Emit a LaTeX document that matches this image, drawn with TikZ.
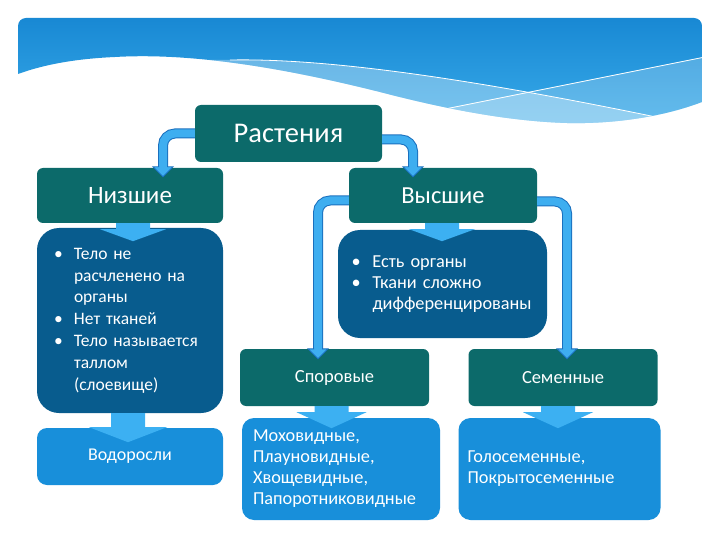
\documentclass[tikz,border=0pt]{standalone}
\usepackage{fontspec}
\setmainfont{Carlito}
\definecolor{tealc}{RGB}{12,106,106}
\definecolor{listc}{RGB}{8,92,142}
\definecolor{botc}{RGB}{24,143,218}
\definecolor{cfillc}{RGB}{62,174,240}
\definecolor{cedgec}{RGB}{26,112,190}
\definecolor{blkc}{RGB}{60,176,242}
\definecolor{bTop}{RGB}{22,134,210}
\definecolor{bBot}{RGB}{58,172,234}
\newcommand\bul[1]{\makebox[#1][l]{\textbullet}}
\newcommand\ind[1]{\hspace*{#1}}
\newcommand\chead[1]{\begin{scope}[shift={(#1)}]
  \fill[cfillc] (-10,-10) -- (10,-10) -- (0,0) -- cycle;
  \draw[cedgec, line width=0.9pt, line join=miter] (-4,-10) -- (-10,-10) -- (0,0) -- (10,-10) -- (4,-10);
\end{scope}}
\newcommand\blk[4]{\begin{scope}[shift={(#1)}]
  \fill[blkc] (-17,0) -- (-17,#2) -- (-#3,#2) -- (0,{#2+#4}) -- (#3,#2) -- (17,#2) -- (17,0) -- cycle;
\end{scope}}
\tikzset{
  outerband/.style={insert path={(18,74) -- (18,26) [rounded corners=8] -- (18,18) -- (702,18) -- (702,60) [sharp corners] -- (702,102)
    .. controls (660,118) and (610,124) .. (567,123)
    .. controls (500,121) and (430,105) .. (380,92)
    .. controls (300,72) and (200,52) .. (115,57)
    .. controls (70,59) and (40,66) .. (18,74) -- cycle}},
  tealbox/.style={fill=tealc, rounded corners=6pt, text=white, inner sep=0pt,
    font=\fontsize{25}{28}\selectfont},
  listbox/.style={fill=listc, rounded corners=22pt, text=white, align=left,
    font=\fontsize{17.5}{21.8}\selectfont},
  botbox/.style={fill=botc, rounded corners=12pt, text=white, align=left,
    font=\fontsize{18.3}{21}\selectfont},
  cline/.style={line width=10pt, draw=cedgec, rounded corners=12pt},
  cinner/.style={line width=8pt, draw=cfillc, rounded corners=12pt}
}
\begin{document}
\begin{tikzpicture}[x=1pt,y=-1pt]
\useasboundingbox (0,0) rectangle (720,540);
\fill[white] (0,0) rectangle (720,540);
% banner
\begin{scope}
  \clip[outerband];
  \shade[top color=bTop, bottom color=bBot] (0,10) rectangle (720,130);
  \fill[white, opacity=0.32] (230,60) .. controls (330,58) and (480,80) .. (680,122) -- (720,200) -- (150,200) -- (150,60) -- cycle;
  \fill[white, opacity=0.22] (420,114) -- (720,54) -- (720,200) -- (420,200) -- cycle;
  \draw[white, line width=0.8pt] (230,60) .. controls (330,58) and (480,80) .. (680,122);
  \draw[white, line width=0.8pt] (420,114) -- (720,54);
\end{scope}
% nodes
\node[tealbox, minimum width=187pt, minimum height=57pt, font=\fontsize{28.5}{31}\selectfont] (rast) at (288.5,133.5) {Растения};
\node[tealbox, minimum width=186pt, minimum height=55pt] (niz) at (130,195.5) {Низшие};
\node[tealbox, minimum width=188pt, minimum height=55pt, font=\fontsize{24.5}{28}\selectfont] (vys) at (443,195.5) {Высшие};
\node[listbox, text width=156pt, inner xsep=15pt, minimum height=185pt] (llist) at (130,320.5)
  {\ind{2pt}\bul{20pt}Тело не\\\ind{22pt}расчленено на\\\ind{22pt}органы\\
   \ind{2pt}\bul{20pt}Нет тканей\\
   \ind{2pt}\bul{20pt}Тело называется\\\ind{22pt}таллом\\\ind{22pt}(слоевище)};
\node[listbox, text width=182pt, inner xsep=13.5pt, minimum height=108pt, font=\fontsize{18.3}{21}\selectfont] (rlist) at (442.5,284)
  {\bul{21pt}Есть органы\\
   \bul{21pt}Ткани сложно\\\ind{21pt}дифференцированы};
\node[tealbox, minimum width=189pt, minimum height=57pt, font=\fontsize{18.5}{21}\selectfont] (spor) at (334.5,377.5) {Споровые};
\node[tealbox, minimum width=189pt, minimum height=57pt, font=\fontsize{18.5}{21}\selectfont] (sem) at (563,377.5) {Семенные};
\node[botbox, rounded corners=10pt, minimum width=186pt, minimum height=57pt, inner sep=0pt, font=\fontsize{18}{21}\selectfont] (vod) at (130,456.5) {Водоросли};
\node[botbox, text width=176pt, inner xsep=11pt, minimum height=102pt] (moh) at (341,469)
  {Моховидные,\\Плауновидные,\\Хвощевидные,\\Папоротниковидные};
\node[botbox, text width=184pt, inner xsep=9pt, minimum height=102pt] (gol) at (559.5,469)
  {Голосеменные,\\Покрытосеменные};
% elbow connectors
\draw[cline] (rast.west) -| ([xshift=33pt]niz.north);
\draw[cinner] (rast.west) -| ([xshift=33pt]niz.north);
\chead{[xshift=33pt,yshift=-9pt]niz.north}
\draw[cline] ([yshift=-6pt]rast.east) -| ([xshift=-30pt]vys.north);
\draw[cinner] ([yshift=-6pt]rast.east) -| ([xshift=-30pt]vys.north);
\chead{[xshift=-30pt,yshift=-9pt]vys.north}
\draw[cline] ([yshift=-5pt]vys.west) -| ([xshift=-16.5pt]spor.north);
\draw[cinner] ([yshift=-5pt]vys.west) -| ([xshift=-16.5pt]spor.north);
\chead{[xshift=-16.5pt,yshift=-10pt]spor.north}
\draw[cline] ([yshift=-6pt]vys.east) -| ([xshift=4pt]sem.north);
\draw[cinner] ([yshift=-6pt]vys.east) -| ([xshift=4pt]sem.north);
\chead{[xshift=4pt,yshift=-10pt]sem.north}
% block arrows
\blk{[xshift=3pt]niz.south}{6}{33}{12}
\blk{[xshift=-1pt]vys.south}{6}{33}{12}
\blk{[xshift=-2pt]llist.south}{14}{39}{15}
\blk{[xshift=-3pt]spor.south}{6}{35}{16}
\blk{[xshift=-5pt]sem.south}{6}{35}{16}
\end{tikzpicture}
\end{document}
